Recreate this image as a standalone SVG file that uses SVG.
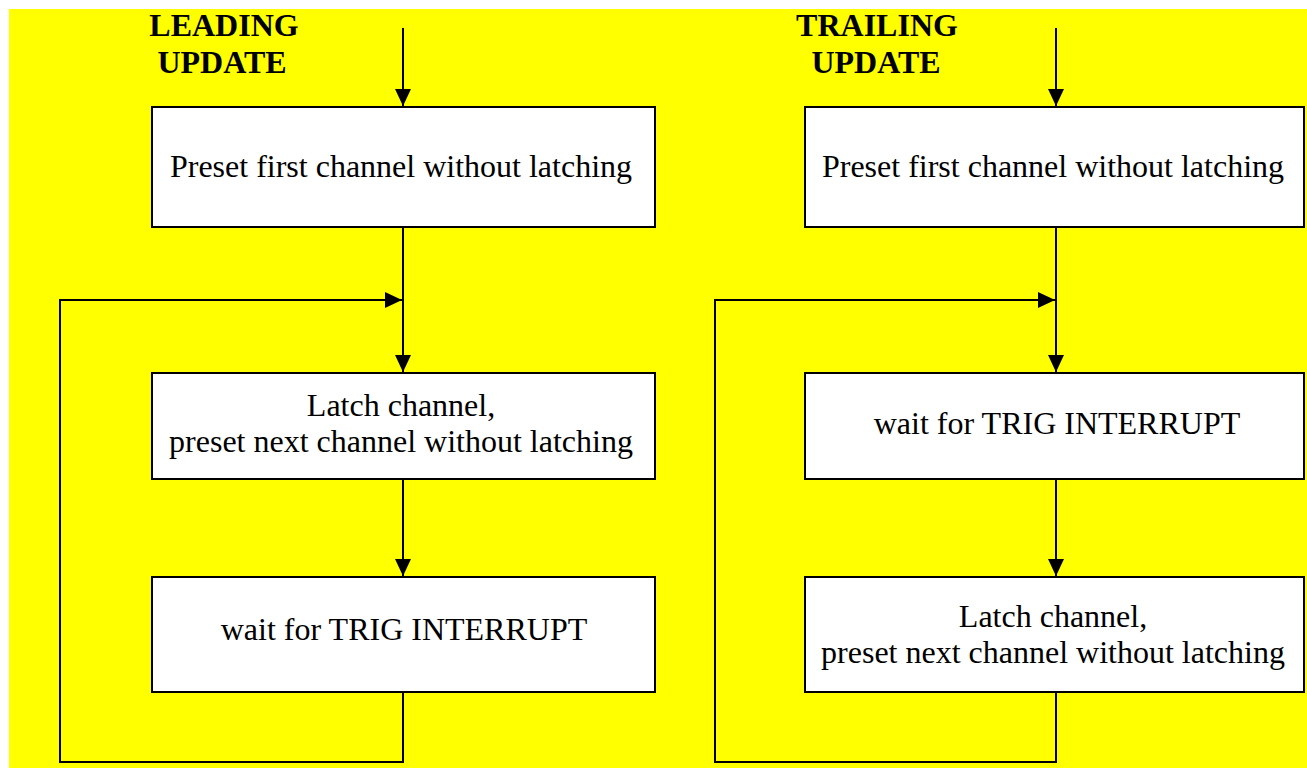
<svg xmlns="http://www.w3.org/2000/svg" width="1307" height="770" viewBox="0 0 1307 770">
  <style>
    .box { fill: #ffffff; stroke: #000000; stroke-width: 2; }
    .lbl { font-family: "Liberation Serif", "Times New Roman", serif; font-size: 32px; fill: #000000; text-anchor: middle; }
    .ttl { font-family: "Liberation Serif", "Times New Roman", serif; font-size: 32px; font-weight: bold; fill: #000000; text-anchor: middle; }
    .edge { fill: none; stroke: #000000; stroke-width: 2; }
  </style>
  <defs>
    <marker id="ah" markerWidth="17" markerHeight="16" refX="17" refY="8" orient="auto" markerUnits="userSpaceOnUse">
      <path d="M0,0 L17,8 L0,16 Z" fill="#000000"/>
    </marker>
  </defs>
  <rect x="0" y="0" width="1307" height="770" fill="#ffffff"/>
  <rect x="9" y="9" width="1298" height="759" fill="#ffff00"/>

  <g id="title-leading">
    <text class="ttl" x="224" y="36">LEADING</text>
    <text class="ttl" x="222" y="73">UPDATE</text>
  </g>
  <g id="title-trailing">
    <text class="ttl" x="877" y="36">TRAILING</text>
    <text class="ttl" x="876" y="73">UPDATE</text>
  </g>

  <g id="connectors">
    <path class="edge" d="M403,28 L403,106" marker-end="url(#ah)"/>
    <path class="edge" d="M403,227 L403,372" marker-end="url(#ah)"/>
    <path class="edge" d="M403,479 L403,576" marker-end="url(#ah)"/>
    <path class="edge" d="M403,692 L403,762 L60,762 L60,300 L402,300" marker-end="url(#ah)"/>

    <path class="edge" d="M1056,28 L1056,106" marker-end="url(#ah)"/>
    <path class="edge" d="M1056,227 L1056,372" marker-end="url(#ah)"/>
    <path class="edge" d="M1056,479 L1056,576" marker-end="url(#ah)"/>
    <path class="edge" d="M1056,692 L1056,762 L715,762 L715,300 L1055,300" marker-end="url(#ah)"/>
  </g>

  <g id="left-preset">
    <rect class="box" x="152" y="107" width="503" height="120"/>
    <text class="lbl" x="401" y="177">Preset first channel without latching</text>
  </g>
  <g id="left-latch">
    <rect class="box" x="152" y="373" width="503" height="106"/>
    <text class="lbl" x="401" y="416">Latch channel,</text>
    <text class="lbl" x="401" y="452">preset next channel without latching</text>
  </g>
  <g id="left-wait">
    <rect class="box" x="152" y="577" width="503" height="115"/>
    <text class="lbl" x="404" y="640">wait for TRIG INTERRUPT</text>
  </g>

  <g id="right-preset">
    <rect class="box" x="805" y="107" width="499" height="120"/>
    <text class="lbl" x="1053" y="177">Preset first channel without latching</text>
  </g>
  <g id="right-wait">
    <rect class="box" x="805" y="373" width="499" height="106"/>
    <text class="lbl" x="1057" y="434">wait for TRIG INTERRUPT</text>
  </g>
  <g id="right-latch">
    <rect class="box" x="805" y="577" width="499" height="115"/>
    <text class="lbl" x="1053" y="627">Latch channel,</text>
    <text class="lbl" x="1053" y="663">preset next channel without latching</text>
  </g>
</svg>
